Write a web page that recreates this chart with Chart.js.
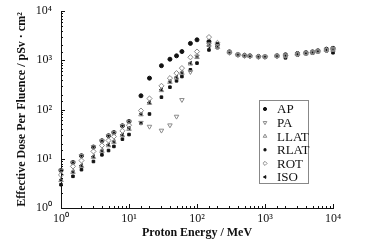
<!DOCTYPE html>
<html>
<head>
<meta charset="utf-8">
<script src="https://cdn.jsdelivr.net/npm/chart.js@4/dist/chart.umd.min.js"></script>
<style>
  body { margin: 0; background: #fff; }
  #doseChart { display: block; }
</style>
</head>
<body>
<canvas id="doseChart" width="390" height="245"></canvas>
<script>
// proton energies (MeV)
const energies = [1, 1.5, 2, 3, 4, 5, 6, 8, 10, 15, 20, 30, 40, 50, 60, 80, 100, 150, 200,
  300, 400, 500, 600, 800, 1000, 1500, 2000, 3000, 4000, 5000, 6000, 8000, 10000];

// effective dose per fluence, pSv cm2
const ap = [5.8, 8.4, 11.5, 17.3, 23.2, 29.3, 34, 46.7, 57, 190, 433, 775, 1050, 1230, 1500, 2200, 2600, 2400, 2100,
  1480, 1310, 1260, 1230, 1190, 1190, 1240, 1290, 1370, 1430, 1480, 1560, 1680, 1750];
const pa = [5.8, 8.4, 11.5, 17.3, 23.2, 29.3, 34, 46.7, 57, 54, 45, 37.5, 48, 72, 157, 580, 1200, 2100, 1950,
  1420, 1280, 1230, 1200, 1170, 1170, 1210, 1250, 1330, 1390, 1450, 1530, 1640, 1700];
const llat = [3.65, 5.35, 7.1, 10.8, 14.3, 18.6, 21.8, 29.7, 40, 79, 135, 245, 360, 440, 550, 850, 1150, 2050, 1850,
  1440, 1290, 1240, 1210, 1180, 1180, 1220, 1230, 1320, 1380, 1430, 1510, 1600, 1620];
const rlat = [2.97, 4.4, 6.0, 8.8, 12.0, 14.7, 17.8, 25, 31, 53, 81, 178, 284, 382, 467, 640, 875, 1620, 1800,
  1450, 1290, 1240, 1210, 1180, 1170, 1200, 1120, 1290, 1350, 1400, 1480, 1560, 1420];
const rot = [4.7, 7.0, 9.2, 14.1, 18.6, 23.5, 28.3, 36.9, 48, 95, 167, 302, 433, 547, 692, 1150, 1500, 2950, 2250,
  1460, 1300, 1250, 1220, 1180, 1180, 1220, 1240, 1330, 1390, 1440, 1520, 1620, 1680];
const iso = [3.75, 5.5, 7.3, 11.1, 14.7, 19.2, 22.5, 30.6, 42, 81, 139, 252, 370, 454, 565, 875, 1190, 1950, 1900,
  1440, 1290, 1240, 1210, 1170, 1160, 1210, 1200, 1310, 1370, 1420, 1500, 1590, 1600];

const decadeLabels = { 1: '10⁰', 10: '10¹', 100: '10²', 1000: '10³', 10000: '10⁴' };

const serif = 'Liberation Serif';
const dark = '#111';
const grey = '#8a8a8a';

function series(label, values, style, filled, rotation, radius) {
  return {
    label: label,
    data: energies.map((e, i) => ({ x: e, y: values[i] })),
    showLine: false,
    clip: false,
    pointStyle: style,
    pointRotation: rotation || 0,
    pointRadius: radius,
    pointBorderWidth: 1,
    pointBackgroundColor: filled ? dark : 'rgba(255,255,255,0)',
    pointBorderColor: filled ? dark : grey,
  };
}

const datasets = [
  series('LLAT', llat, 'triangle', false, 0, 2.6),
  series('ROT', rot, 'rectRot', false, 0, 2.6),
  series('PA', pa, 'triangle', false, 180, 2.6),
  series('RLAT', rlat, 'rect', true, 0, 1.8),
  series('ISO', iso, 'triangle', true, 270, 2.0),
  series('AP', ap, 'circle', true, 0, 2.0),
];

const legendOrder = ['AP', 'PA', 'LLAT', 'RLAT', 'ROT', 'ISO'];

// ticks pointing into the plot, major at decades
const inwardTicks = {
  id: 'inwardTicks',
  afterDraw(chart) {
    const ctx = chart.ctx;
    const area = chart.chartArea;
    ctx.save();
    ctx.strokeStyle = dark;
    ctx.lineWidth = 1;
    ctx.beginPath();
    chart.scales.x.ticks.forEach(t => {
      const major = decadeLabels[t.value] !== undefined;
      const px = Math.round(chart.scales.x.getPixelForValue(t.value)) + 0.5;
      ctx.moveTo(px, area.bottom);
      ctx.lineTo(px, area.bottom - (major ? 4 : 2));
    });
    chart.scales.y.ticks.forEach(t => {
      const major = decadeLabels[t.value] !== undefined;
      const py = Math.round(chart.scales.y.getPixelForValue(t.value)) + 0.5;
      ctx.moveTo(area.left, py);
      ctx.lineTo(area.left + (major ? 4 : 2), py);
    });
    ctx.stroke();
    ctx.restore();
  }
};

// boxed legend inside the plot
const boxLegend = {
  id: 'boxLegend',
  afterDraw(chart) {
    const ctx = chart.ctx;
    const area = chart.chartArea;
    const bx = area.left + 198, by = area.top + 89, bw = 49, bh = 83;
    ctx.save();
    ctx.fillStyle = '#fff';
    ctx.fillRect(bx, by, bw, bh);
    ctx.strokeStyle = '#888';
    ctx.lineWidth = 1;
    ctx.strokeRect(bx + 0.5, by + 0.5, bw, bh);
    ctx.font = '13px "' + serif + '"';
    ctx.textBaseline = 'middle';
    legendOrder.forEach((name, i) => {
      const ds = chart.data.datasets.find(d => d.label === name);
      const y = by + 9 + i * 13.6;
      ctx.fillStyle = ds.pointBackgroundColor;
      ctx.strokeStyle = ds.pointBorderColor;
      ctx.lineWidth = 1;
      Chart.helpers.drawPoint(ctx, {
        pointStyle: ds.pointStyle,
        radius: ds.pointRadius * 0.8,
        rotation: ds.pointRotation,
        borderWidth: 1,
      }, bx + 6, y);
      ctx.fillStyle = dark;
      ctx.fillText(name, bx + 18, y + 1);
    });
    ctx.restore();
  }
};

new Chart(document.getElementById('doseChart'), {
  type: 'scatter',
  data: { datasets: datasets },
  options: {
    responsive: false,
    animation: false,
    devicePixelRatio: 1,
    layout: { padding: { top: 11, right: 57, left: 0, bottom: 0 } },
    plugins: { legend: { display: false }, tooltip: { enabled: false } },
    scales: {
      x: {
        type: 'logarithmic',
        min: 1,
        max: 10000,
        grid: { display: false, drawTicks: false },
        border: { display: true, color: dark, width: 1 },
        ticks: {
          autoSkip: false,
          maxRotation: 0,
          padding: 4,
          color: dark,
          font: { family: serif, size: 12 },
          callback: v => decadeLabels[v] || '',
        },
        title: {
          display: true,
          text: 'Proton Energy / MeV',
          color: dark,
          font: { family: serif, size: 12, weight: 'bold' },
          padding: { top: 0, bottom: 5 },
        },
        afterFit: s => { s.height = 37; s.paddingLeft = 0; s.paddingRight = 0; },
      },
      y: {
        type: 'logarithmic',
        min: 1,
        max: 10000,
        grid: { display: false, drawTicks: false },
        border: { display: true, color: dark, width: 1 },
        ticks: {
          autoSkip: false,
          padding: 9,
          color: dark,
          font: { family: serif, size: 12 },
          callback: v => decadeLabels[v] || '',
        },
        title: {
          display: true,
          text: 'Effective Dose Per Fluence / pSv · cm²',
          color: dark,
          font: { family: serif, size: 12, weight: 'bold' },
          padding: { top: 15, bottom: 0 },
        },
        afterFit: s => { s.width = 61; s.paddingTop = 0; s.paddingBottom = 0; },
      },
    },
  },
  plugins: [inwardTicks, boxLegend],
});
</script>
</body>
</html>
